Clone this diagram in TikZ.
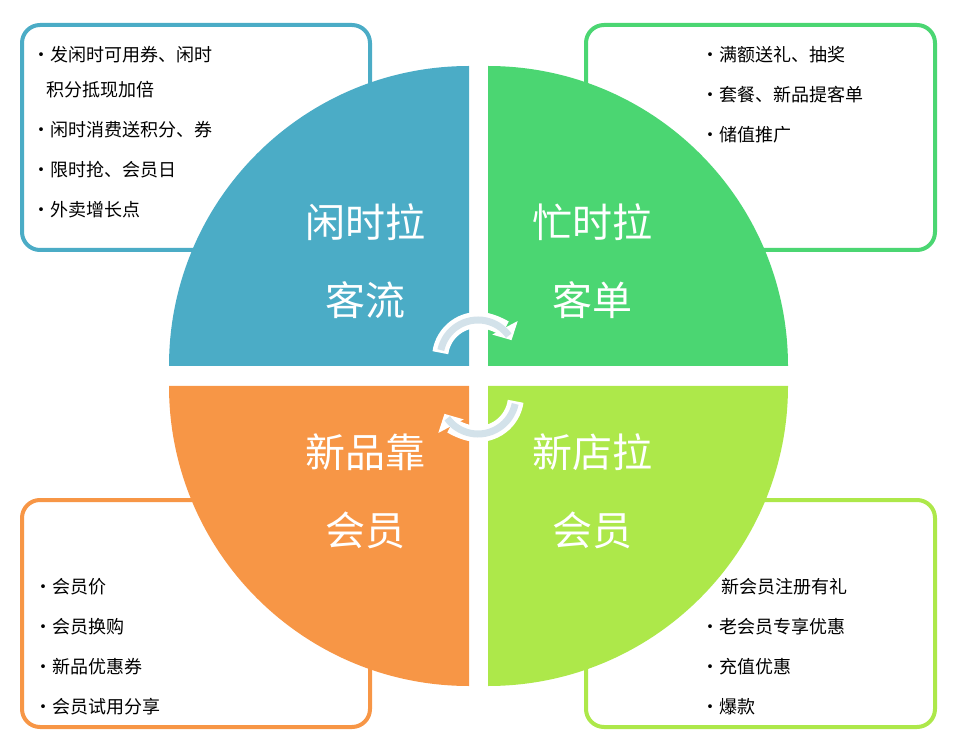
\documentclass[tikz,border=0pt]{standalone}
\usepackage{fontspec}
\setmainfont{Noto Sans CJK SC}
\usetikzlibrary{arrows.meta}
\definecolor{qblue}{HTML}{4BACC6}
\definecolor{qgreen}{HTML}{4BD672}
\definecolor{qorange}{HTML}{F79646}
\definecolor{qlime}{HTML}{ADE84A}
\definecolor{arrin}{HTML}{D3E2EA}
\tikzset{
  box/.style={line width=4pt, rounded corners=18pt, fill=white},
  big/.style={text=white, font=\fontsize{40}{48}\selectfont, anchor=center},
  item/.style={anchor=west, font=\fontsize{18}{22}\selectfont, inner sep=0pt},
}
\begin{document}
\begin{tikzpicture}[x=1pt,y=1pt]
\useasboundingbox (0,0) rectangle (961,748);
% boxes
\draw[box, draw=qblue] (22,723) rectangle (370,498);
\draw[box, draw=qgreen] (586,723) rectangle (935,498);
\draw[box, draw=qorange] (22,248) rectangle (370,21);
\draw[box, draw=qlime] (586,248) rectangle (935,21);
% quadrants
\fill[qblue] (469,382) -- (169,382) arc[start angle=180,end angle=90,radius=300] -- cycle;
\fill[qgreen] (488,382) -- (488,682) arc[start angle=90,end angle=0,radius=300] -- cycle;
\fill[qorange] (469,362) -- (169,362) arc[start angle=180,end angle=270,radius=300] -- cycle;
\fill[qlime] (488,362) -- (788,362) arc[start angle=0,end angle=-90,radius=300] -- cycle;
% big labels
\node[big] (t1) at (365,526) {闲时拉};
\node[big] (t2) at (365,448) {客流};
\node[big] (t3) at (592,526) {忙时拉};
\node[big] (t4) at (592,448) {客单};
\node[big] (t5) at (365,296) {新品靠};
\node[big] (t6) at (365,218) {会员};
\node[big] (t7) at (592,296) {新店拉};
\node[big] (t8) at (592,218) {会员};
% center arrows
\draw[white, line width=16pt, -{Triangle[length=14pt,width=28pt]}] (478,390) ++(172:38) arc[start angle=172,end angle=28,radius=38];
\draw[arrin, line width=7pt] (478,390) ++(168:38) arc[start angle=168,end angle=36,radius=38];
\draw[white, line width=16pt, -{Triangle[length=14pt,width=28pt]}] (478,352) ++(-8:38) arc[start angle=-8,end angle=-152,radius=38];
\draw[arrin, line width=7pt] (478,352) ++(-12:38) arc[start angle=-12,end angle=-144,radius=38];
% TL items
\node[item] (a1) at (32,693) {•发闲时可用券、闲时};
\node[item] (a2) at (46,658) {积分抵现加倍};
\node[item] (a3) at (32,618) {•闲时消费送积分、券};
\node[item] (a4) at (32,578) {•限时抢、会员日};
\node[item] (a5) at (32,538) {•外卖增长点};
% TR items
\node[item] (b1) at (701,693) {•满额送礼、抽奖};
\node[item] (b2) at (701,653) {•套餐、新品提客单};
\node[item] (b3) at (701,613) {•储值推广};
% BL items
\node[item] (c1) at (34,161) {•会员价};
\node[item] (c2) at (34,121) {•会员换购};
\node[item] (c3) at (34,81) {•新品优惠券};
\node[item] (c4) at (34,41) {•会员试用分享};
% BR items
\node[item] (d1) at (721,161) {新会员注册有礼};
\node[item] (d2) at (701,121) {•老会员专享优惠};
\node[item] (d3) at (701,81) {•充值优惠};
\node[item] (d4) at (701,41) {•爆款};
\end{tikzpicture}
\end{document}
